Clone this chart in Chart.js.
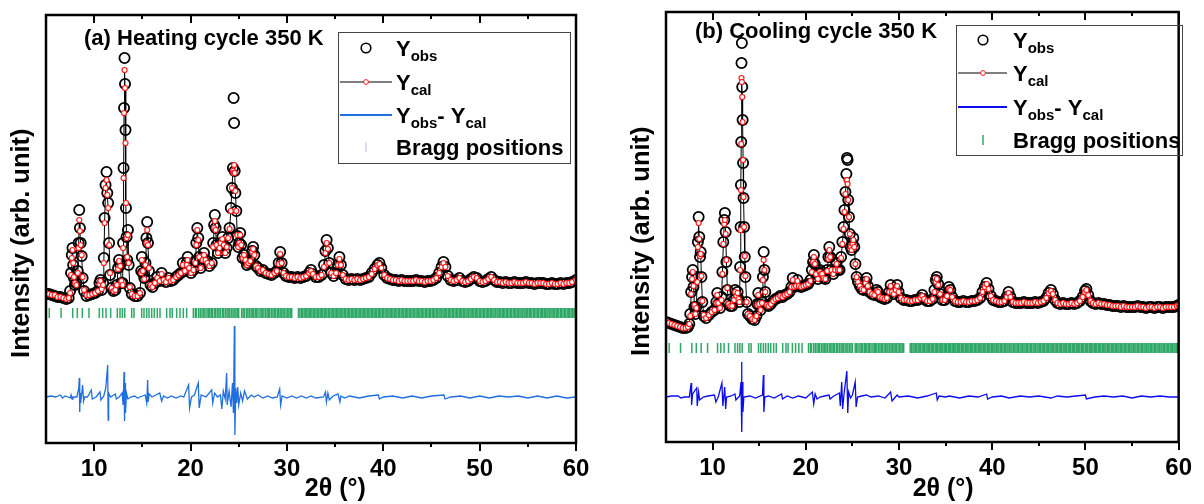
<!DOCTYPE html>
<html><head><meta charset="utf-8">
<script src="https://cdn.jsdelivr.net/npm/chart.js@4.4.1/dist/chart.umd.min.js"></script>
<style>
html,body{margin:0;padding:0;background:#fff;}
#wrap{position:relative;width:1204px;height:504px;overflow:hidden;}
.pane{position:absolute;top:0;width:602px;height:504px;}
canvas{display:block;}
</style></head><body>
<div id="wrap">
<div class="pane" style="left:0"><canvas id="cA" width="602" height="504"></canvas></div>
<div class="pane" style="left:602px"><canvas id="cB" width="602" height="504"></canvas></div>
</div>
<script>
// ---------- Panel (a): heating cycle 350 K ----------
const twoThetaA = [
 5.0,5.3,5.6,5.9,6.2,6.5,6.8,7.1,7.35,7.5,
 7.6,7.68,7.75,7.82,7.9,8.0,8.15,8.3,8.38,8.45,
 8.52,8.6,8.7,8.8,8.95,9.2,9.5,9.8,10.1,10.4,
 10.55,10.65,10.78,10.92,11.0,11.08,11.18,11.28,11.36,11.45,
 11.55,11.65,11.8,12.0,12.2,12.35,12.48,12.58,12.7,12.82,
 12.95,13.0,13.05,13.1,13.15,13.2,13.25,13.3,13.36,13.43,
 13.5,13.58,13.7,13.9,14.2,14.5,14.75,14.88,14.95,15.05,
 15.2,15.32,15.42,15.5,15.58,15.68,15.85,16.05,16.3,16.55,
 16.8,17.0,17.2,17.45,17.7,17.95,18.2,18.5,18.75,19.0,
 19.2,19.4,19.6,19.7,19.85,20.05,20.3,20.5,20.6,20.7,
 20.8,20.9,21.05,21.25,21.4,21.55,21.75,21.95,22.2,22.35,
 22.45,22.52,22.6,22.7,22.85,23.0,23.12,23.3,23.45,23.6,
 23.75,23.9,24.05,24.18,24.3,24.4,24.47,24.52,24.58,24.65,
 24.75,24.85,24.95,25.05,25.15,25.25,25.4,25.55,25.7,25.85,
 26.0,26.2,26.4,26.5,26.62,26.8,27.0,27.25,27.5,27.8,
 28.1,28.4,28.7,28.95,29.15,29.3,29.45,29.65,29.9,30.2,
 30.5,30.8,31.1,31.4,31.7,32.0,32.3,32.5,32.7,33.0,
 33.3,33.6,33.85,34.0,34.12,34.25,34.4,34.6,34.85,35.1,
 35.3,35.45,35.6,35.8,36.1,36.4,36.7,37.0,37.3,37.6,
 37.9,38.2,38.5,38.8,39.1,39.4,39.6,39.8,40.1,40.4,
 40.7,41.0,41.3,41.6,41.9,42.2,42.5,42.8,43.1,43.4,
 43.7,44.0,44.3,44.6,44.9,45.2,45.5,45.8,46.05,46.25,
 46.45,46.7,47.0,47.3,47.6,47.9,48.2,48.5,48.8,49.1,
 49.4,49.7,50.0,50.3,50.6,50.9,51.2,51.5,51.8,52.1,
 52.4,52.7,53.0,53.3,53.6,53.9,54.2,54.5,54.8,55.1,
 55.4,55.7,56.0,56.3,56.6,56.9,57.2,57.5,57.8,58.1,
 58.4,58.7,59.0,59.3,59.6,60.0
];
const yObsA = [
 149,149,148,147,146,146,145,144,145,152,
 170,188,195,178,165,158,160,172,200,233,
 215,200,187,165,152,147,148,149,150,152,
 160,163,153,160,185,225,258,271,250,240,
 200,168,155,152,153,158,175,183,178,160,
 160,200,275,335,385,359,313,235,206,183,
 213,178,155,149,147,147,150,172,186,170,
 165,180,205,221,200,172,158,156,160,166,
 162,170,163,161,165,162,163,166,168,170,
 180,172,180,186,175,170,173,182,200,215,
 205,186,175,185,190,183,182,177,180,200,
 218,228,215,198,190,195,200,206,198,190,
 195,205,215,235,255,275,345,320,272,250,
 232,207,196,200,210,198,185,188,183,178,
 180,182,192,196,188,177,175,172,173,170,
 169,168,170,172,180,191,180,170,167,166,
 166,165,166,165,166,167,170,173,169,166,
 166,168,178,192,203,195,180,170,167,170,
 178,186,178,168,164,163,164,163,164,163,
 164,165,166,170,174,178,180,175,168,165,
 164,163,163,162,163,162,162,162,162,163,
 162,162,161,162,162,163,165,170,176,181,
 176,167,163,162,163,165,162,161,162,164,
 166,165,162,161,162,164,166,163,161,161,
 160,161,160,160,161,160,160,160,161,160,
 160,159,160,160,160,159,159,160,159,159,
 160,159,160,160,161,163
];
const yCalA = [
 150,149,148,148,146,146,145,144,145,150,
 168,185,193,180,166,160,158,170,195,223,
 212,198,188,166,153,148,148,149,150,152,
 159,162,154,158,180,220,255,263,248,235,
 198,170,155,152,153,158,174,182,177,162,
 158,195,265,330,373,355,300,240,205,186,
 208,180,156,149,147,147,150,170,183,172,
 164,178,200,213,198,175,158,156,160,165,
 162,169,163,161,165,162,163,166,168,170,
 178,172,178,183,175,170,173,180,198,213,
 203,186,175,183,188,183,180,177,180,196,
 215,222,213,198,190,195,200,204,198,190,
 196,205,214,232,255,272,270,278,270,252,
 232,208,196,200,208,198,185,188,183,178,
 180,182,191,194,188,177,175,172,173,170,
 169,168,170,172,179,189,180,170,167,166,
 166,165,166,165,166,167,170,172,169,166,
 166,168,176,190,200,194,180,170,167,170,
 178,184,178,168,164,163,164,163,164,163,
 164,165,166,169,174,178,179,175,168,165,
 164,163,163,162,163,162,162,162,162,163,
 162,162,161,162,162,163,165,170,176,180,
 176,167,163,162,163,165,162,161,162,164,
 166,165,162,161,162,164,166,163,161,161,
 160,161,160,160,161,160,160,160,161,160,
 160,159,160,160,160,159,159,160,159,159,
 160,159,160,160,161,163
];
const diffThetaA = [
 5,5.5,6,6.5,6.7,7,7.5,7.6,7.7,7.8,
 8.2,8.4,8.45,8.5,8.55,8.6,8.8,8.9,9.0,9.3,
 9.7,9.8,10.2,10.6,10.7,11.0,11.2,11.4,11.45,11.5,
 11.7,12.2,12.3,12.6,12.9,13.0,13.1,13.15,13.2,13.25,
 13.35,13.5,13.8,14.2,14.5,15.0,15.3,15.45,15.55,15.6,
 15.7,16.0,16.4,16.8,17.0,17.2,17.6,18.0,18.5,19.0,
 19.3,19.8,19.9,20.1,20.4,20.8,20.9,21.1,21.6,22.2,
 22.3,22.5,22.8,23.1,23.25,23.4,23.6,23.75,23.8,24.0,
 24.2,24.35,24.45,24.55,24.6,24.7,24.8,24.9,25.0,25.2,
 25.4,25.6,25.9,26.3,26.6,27.0,27.5,28.0,28.5,29.0,
 29.25,29.35,29.5,30.0,30.5,31.0,31.5,32.0,32.5,33.0,
 33.8,34.0,34.1,34.25,34.4,34.8,35.3,35.5,35.6,36.0,
 36.5,37.5,38.5,39.5,39.6,40.0,41.0,42.0,43.0,44.0,
 45.0,46.3,46.4,47.0,48.0,49.0,50.0,51.0,52.0,53.0,
 54.0,55.0,56.0,57.0,58.0,59.0,60.0
];
const yDiffA = [
 46,47,46,48,45,47,45,48,44,46,
 46,55,65,31,50,40,58,42,46,46,
 53,44,46,51,43,47,55,78,23,50,
 46,49,44,46,50,38,71,22,60,30,
 50,44,46,47,45,47,48,40,63,41,
 49,46,48,50,42,47,45,47,45,47,
 46,58,35,46,48,60,35,48,46,53,
 40,50,46,48,34,52,44,70,38,52,
 36,60,30,117,8,55,40,56,38,50,
 42,52,44,48,46,48,45,47,45,46,
 54,38,47,45,47,45,47,45,47,45,
 46,51,41,50,43,47,49,41,47,45,
 47,45,47,48,44,46,47,45,47,45,
 47,48,44,46,47,45,47,45,47,46,
 47,45,47,45,47,45,46
];

// ---------- Panel (b): cooling cycle 350 K ----------
const twoThetaB = [
 5.0,5.3,5.6,5.9,6.2,6.5,6.8,7.1,7.35,7.5,
 7.6,7.7,7.8,7.87,7.95,8.05,8.15,8.25,8.35,8.42,
 8.5,8.57,8.65,8.72,8.8,8.9,9.05,9.3,9.6,9.9,
 10.2,10.4,10.5,10.6,10.8,10.95,11.05,11.15,11.25,11.32,
 11.4,11.48,11.58,11.7,11.9,12.1,12.3,12.42,12.55,12.68,
 12.78,12.88,12.95,13.0,13.04,13.07,13.1,13.14,13.18,13.22,
 13.27,13.32,13.38,13.45,13.52,13.65,13.8,14.0,14.25,14.5,
 14.7,14.8,14.9,15.0,15.15,15.3,15.4,15.48,15.56,15.65,
 15.8,16.0,16.25,16.5,16.75,17.0,17.25,17.5,17.75,18.0,
 18.25,18.45,18.6,18.75,18.95,19.1,19.25,19.5,19.75,20.0,
 20.25,20.5,20.65,20.78,20.87,20.97,21.1,21.3,21.5,21.62,
 21.75,21.9,22.1,22.3,22.42,22.52,22.62,22.75,22.95,23.15,
 23.3,23.45,23.62,23.78,23.92,24.05,24.15,24.25,24.35,24.42,
 24.48,24.55,24.63,24.72,24.82,24.92,25.02,25.1,25.2,25.32,
 25.45,25.6,25.8,26.0,26.2,26.4,26.52,26.65,26.85,27.1,
 27.35,27.6,27.75,27.95,28.2,28.45,28.7,28.95,29.1,29.25,
 29.45,29.65,29.8,29.95,30.2,30.5,30.8,31.1,31.4,31.7,
 32.0,32.3,32.5,32.7,33.0,33.3,33.6,33.8,33.95,34.05,
 34.2,34.4,34.65,34.9,35.15,35.35,35.5,35.7,36.0,36.3,
 36.6,36.9,37.2,37.5,37.8,38.1,38.4,38.7,38.95,39.2,
 39.4,39.6,39.85,40.1,40.4,40.7,41.0,41.3,41.55,41.75,
 41.95,42.2,42.5,42.8,43.1,43.4,43.7,44.0,44.3,44.6,
 44.9,45.2,45.5,45.8,46.05,46.3,46.5,46.75,47.0,47.3,
 47.6,47.9,48.2,48.5,48.8,49.1,49.4,49.7,49.95,50.1,
 50.3,50.55,50.8,51.1,51.4,51.7,52.0,52.3,52.6,52.9,
 53.2,53.5,53.8,54.1,54.4,54.7,55.0,55.3,55.6,55.9,
 56.2,56.5,56.8,57.1,57.4,57.7,58.0,58.3,58.6,58.9,
 59.2,59.5,59.8,60.0
];
const yObsB = [
 120,119,118,117,116,115,114,114,115,118,
 128,150,165,172,155,135,128,135,165,200,
 225,205,185,190,165,140,126,124,127,130,
 132,140,149,138,134,145,170,200,222,229,
 210,180,152,138,136,136,142,152,146,150,
 143,140,175,215,257,300,379,399,355,322,
 279,244,215,185,165,140,128,126,123,122,
 126,138,149,138,132,140,165,190,172,150,
 137,136,138,141,143,144,146,145,147,148,
 150,155,164,155,156,162,156,155,156,157,
 158,162,172,180,187,178,168,163,172,168,
 170,164,163,172,185,195,185,172,168,172,
 179,172,172,185,200,215,232,250,268,284,
 282,242,225,208,195,192,198,204,195,178,
 165,160,156,153,152,160,164,156,150,148,
 147,152,150,145,144,143,144,150,157,150,
 148,152,157,150,144,142,142,141,141,142,
 142,144,147,143,141,141,143,152,162,165,
 158,148,142,142,146,155,152,145,141,140,
 140,141,140,140,141,141,142,144,150,155,
 159,153,146,142,141,140,140,141,145,150,
 145,140,139,139,139,140,139,139,139,140,
 139,140,141,144,149,152,148,142,139,138,
 139,138,138,139,138,139,141,145,151,153,
 147,141,139,138,139,138,138,137,137,136,
 136,136,135,136,135,135,135,135,136,135,
 135,134,135,135,134,135,135,134,135,135,
 135,135,136,137
];
const yCalB = [
 121,119,118,117,116,115,114,114,115,118,
 126,148,163,170,156,137,128,134,160,195,
 219,203,186,188,166,141,127,124,127,130,
 132,139,147,139,134,142,168,198,218,222,
 208,182,154,138,136,136,142,150,146,149,
 143,140,172,212,252,298,364,360,345,320,
 282,245,215,186,166,140,128,126,123,122,
 126,137,147,138,132,139,162,182,172,150,
 137,136,138,141,143,144,146,145,147,148,
 150,155,162,155,156,161,156,155,156,157,
 158,161,170,180,185,178,168,163,170,168,
 168,164,163,171,183,192,185,172,168,172,
 178,172,172,184,198,213,230,248,262,262,
 258,242,225,208,195,192,198,202,195,178,
 165,160,156,153,152,159,163,156,150,148,
 147,151,150,145,144,143,144,150,156,150,
 148,152,156,150,144,142,142,141,141,142,
 142,144,146,143,141,141,143,150,160,163,
 157,148,142,142,146,153,152,145,141,140,
 140,141,140,140,141,141,142,144,150,155,
 158,153,146,142,141,140,140,141,145,149,
 145,140,139,139,139,140,139,139,139,140,
 139,140,141,144,149,151,148,142,139,138,
 139,138,138,139,138,139,141,145,150,152,
 147,141,139,138,139,138,138,137,137,136,
 136,136,135,136,135,135,135,135,136,135,
 135,134,135,135,134,135,135,134,135,135,
 135,135,136,137
];
const diffThetaB = [
 5,5.6,6.3,6.6,7.0,7.5,7.7,7.75,7.85,8.3,
 8.35,8.5,8.6,9.0,9.5,10.2,10.35,10.6,11.0,11.1,
 11.3,11.4,11.5,12.0,12.4,12.5,12.9,13.05,13.1,13.15,
 13.2,13.25,13.35,14.0,14.6,15.35,15.45,15.5,15.6,16.0,
 16.6,17.4,17.5,18.0,18.6,19.2,20.0,20.7,20.85,21.0,
 21.2,21.5,22.0,22.5,22.6,23.0,23.6,23.7,23.85,23.95,
 24.1,24.4,24.5,24.6,24.8,25.0,25.3,25.4,25.55,26.0,
 26.5,27.0,27.8,28.5,29.1,29.25,29.8,30.0,31.0,32.0,
 33.0,34.0,34.1,34.3,35.0,35.4,36.5,37.5,38.5,39.4,
 39.5,40.0,41.0,41.8,43.0,44.0,45.0,46.3,47.0,48.0,
 49.0,50.0,50.1,51.0,52.0,53.0,54.0,55.0,56.0,57.0,
 58.0,59.0,60.0
];
const yDiffB = [
 45,46,46,44,45,45,59,37,48,54,
 36,50,42,45,46,47,40,45,59,36,
 55,33,45,46,48,42,46,60,80,10,
 60,30,45,46,44,47,67,30,45,46,
 44,48,43,46,44,46,44,50,38,48,
 43,45,46,47,43,46,49,36,60,33,
 48,71,29,50,44,47,60,35,45,46,
 47,45,46,44,50,41,47,45,46,44,
 46,49,42,46,45,46,44,46,45,48,
 43,45,46,44,46,45,46,44,46,45,
 46,47,43,45,46,45,46,44,46,45,
 46,45,45
];

// ---------- Bragg reflection positions (same phase in both panels) ----------
const braggPositions = [
 5.34,6.56,7.77,8.25,8.77,9.46,10.53,10.88,11.23,11.71,12.4,12.68,12.92,13.17,13.89,14.13,
 14.93,15.17,15.45,15.69,15.97,16.24,16.55,16.83,17.52,17.87,18.1,18.56,18.9,19.25,19.6,
 20.29,20.5,20.62,20.85,21.02,21.2,21.38,21.5,21.7,21.85,22.0,22.15,22.3,22.5,22.62,22.8,
 22.95,23.1,23.3,23.42,23.6,23.78,23.9,24.05,24.22,24.4,24.52,24.7,24.85,25.0,25.3,25.45,
 25.6,25.8,25.95,26.1,26.28,26.4,26.55,26.72,26.85,27.0,27.2,27.35,27.5,27.62,27.8,27.95,
 28.1,28.22,28.4,28.55,28.7,28.82,29.0,29.15,29.3,29.45,29.6,29.72,29.9,30.05,30.2,30.35,30.5,
 31.2,31.35,31.5,31.62,31.78,31.9,32.05,32.2,32.32,32.48,32.6,32.75,32.9,33.02,33.18,33.3,
 33.45,33.6,33.72,33.88,34.0,34.15,34.3,34.42,34.58,34.7,34.85,35.0,35.12,35.28,35.4,35.55,
 35.7,35.82,35.98,36.1,36.25,36.4,36.52,36.68,36.8,36.95,37.1,37.22,37.38,37.5,37.65,37.8,
 37.92,38.08,38.2,38.35,38.5,38.62,38.78,38.9,39.05,39.2,39.32,39.48,39.6,39.75,39.9,40.02,
 40.18,40.3,40.45,40.6,40.72,40.88,41.0,41.15,41.3,41.42,41.58,41.7,41.85,42.0,42.12,42.28,
 42.4,42.55,42.7,42.82,42.98,43.1,43.25,43.4,43.52,43.68,43.8,43.95,44.1,44.22,44.38,44.5,
 44.65,44.8,44.92,45.08,45.2,45.35,45.5,45.62,45.78,45.9,46.05,46.2,46.32,46.48,46.6,46.75,
 46.9,47.02,47.18,47.3,47.45,47.6,47.72,47.88,48.0,48.15,48.3,48.42,48.58,48.7,48.85,49.0,
 49.12,49.28,49.4,49.55,49.7,49.82,49.98,50.1,50.25,50.4,50.52,50.68,50.8,50.95,51.1,51.22,
 51.38,51.5,51.65,51.8,51.92,52.08,52.2,52.35,52.5,52.62,52.78,52.9,53.05,53.2,53.32,53.48,
 53.6,53.75,53.9,54.02,54.18,54.3,54.45,54.6,54.72,54.88,55.0,55.15,55.3,55.42,55.58,55.7,
 55.85,56.0,56.12,56.28,56.4,56.55,56.7,56.82,56.98,57.1,57.25,57.4,57.52,57.68,57.8,57.95,
 58.1,58.22,58.38,58.5,58.65,58.8,58.92,59.08,59.2,59.35,59.5,59.62,59.78,59.9
];

const xTickLabels = [10,20,30,40,50,60];

// ---------- drawing ----------
const FONT = "'Liberation Sans', Arial, Helvetica, sans-serif";
Chart.defaults.font.family = FONT;
Chart.defaults.color = '#000';

function pts(xs, ys) { return xs.map((x, i) => ({x: x, y: ys[i]})); }

function drawRich(ctx, x, base, parts, size, subSize) {
  let cx = x;
  parts.forEach(p => {
    ctx.font = 'bold ' + (p.sub ? subSize : size) + 'px ' + FONT;
    const y = p.sub ? base + 5 : base;
    ctx.fillText(p.t, cx, y);
    cx += ctx.measureText(p.t).width;
  });
}

const decorPlugin = {
  id: 'decor',
  afterDraw(chart, args, o) {
    const ctx = chart.ctx, a = chart.chartArea, xs = chart.scales.x;
    ctx.save();
    ctx.strokeStyle = '#000'; ctx.lineWidth = 2.5;
    ctx.strokeRect(a.left, a.top, a.right - a.left, a.bottom - a.top);
    ctx.lineWidth = 2;
    for (let v = 10; v <= 60; v += 5) {
      const px = Math.round(xs.getPixelForValue(v));
      const len = (v % 10 === 0) ? 8 : 4;
      ctx.beginPath();
      ctx.moveTo(px, a.bottom); ctx.lineTo(px, a.bottom + len);
      ctx.moveTo(px, a.top); ctx.lineTo(px, a.top + len);
      ctx.stroke();
    }
    ctx.fillStyle = '#000';
    ctx.textBaseline = 'alphabetic';
    ctx.font = 'bold 22px ' + FONT;
    ctx.fillText(o.title, o.titleX, o.titleBase);
    const b = o.box;
    ctx.lineWidth = 1; ctx.strokeStyle = '#444';
    ctx.strokeRect(b[0] + 0.5, b[1] + 0.5, b[2] - b[0], b[3] - b[1]);
    const r = o.rows, sx = o.symX;
    ctx.strokeStyle = '#000'; ctx.lineWidth = 1.6;
    ctx.beginPath(); ctx.arc(sx, r[0], 4.8, 0, Math.PI * 2); ctx.stroke();
    ctx.lineWidth = 1; ctx.strokeStyle = '#000';
    ctx.beginPath(); ctx.moveTo(o.lineX[0], r[1]); ctx.lineTo(o.lineX[1], r[1]); ctx.stroke();
    ctx.fillStyle = '#fff'; ctx.strokeStyle = '#ff1a1a';
    ctx.beginPath(); ctx.arc(sx, r[1], 2.4, 0, Math.PI * 2); ctx.fill(); ctx.stroke();
    ctx.strokeStyle = o.diffColor; ctx.lineWidth = 2;
    ctx.beginPath(); ctx.moveTo(o.lineX[0], r[2]); ctx.lineTo(o.lineX[1], r[2]); ctx.stroke();
    ctx.strokeStyle = o.braggSym; ctx.lineWidth = 1.5;
    ctx.beginPath(); ctx.moveTo(sx, r[3] - 5); ctx.lineTo(sx, r[3] + 5); ctx.stroke();
    ctx.fillStyle = '#000';
    drawRich(ctx, o.textX, r[0] + 8, [{t:'Y'},{t:'obs',sub:true}], 22, 15);
    drawRich(ctx, o.textX, r[1] + 8, [{t:'Y'},{t:'cal',sub:true}], 22, 15);
    drawRich(ctx, o.textX, r[2] + 8, [{t:'Y'},{t:'obs',sub:true},{t:'- Y'},{t:'cal',sub:true}], 22, 15);
    drawRich(ctx, o.textX, r[3] + 8, [{t:'Bragg positions'}], 22, 15);
    ctx.restore();
  }
};

function makePanel(id, p) {
  const area = p.area;
  return new Chart(document.getElementById(id), {
    type: 'scatter',
    data: {
      datasets: [
        { label: 'Ycal', type: 'line', data: pts(p.x, p.cal), borderColor: '#000', borderWidth: 1,
          pointRadius: 2.5, pointBorderColor: '#ff1a1a', pointBackgroundColor: '#fff', pointBorderWidth: 1.2,
          tension: 0, order: 1 },
        { label: 'Yobs-Ycal', type: 'line', data: pts(p.dx, p.dy), borderColor: p.diffColor, borderWidth: 1.3,
          pointRadius: 0, tension: 0, order: 2 },
        { label: 'Yobs', type: 'scatter', data: pts(p.x, p.obs), pointRadius: 5.1, pointBorderColor: '#000',
          pointBackgroundColor: 'rgba(0,0,0,0)', pointBorderWidth: 1.8, showLine: false, order: 3 },
        { label: 'Bragg positions', type: 'scatter', data: braggPositions.map(x => ({x: x, y: p.braggY})),
          pointStyle: 'line', pointRotation: 90, pointRadius: 5, pointBorderColor: '#2fa866',
          pointBorderWidth: 1.5, showLine: false, order: 4 }
      ]
    },
    options: {
      responsive: false, animation: false, devicePixelRatio: 1, events: [],
      layout: { padding: { left: 0, top: area.top, right: 602 - area.right, bottom: 0 } },
      plugins: { legend: { display: false }, tooltip: { enabled: false }, decor: p.decor },
      scales: {
        x: {
          type: 'linear', min: 5, max: 60, position: 'bottom',
          grid: { display: false, drawTicks: false }, border: { display: false },
          ticks: { stepSize: 5, autoSkip: false, maxRotation: 0, padding: p.tickPad, color: '#000',
                   font: { size: 24, weight: 'bold' },
                   callback: v => xTickLabels.includes(v) ? String(v) : '' },
          title: { display: true, text: p.xTitle, color: '#000', font: { size: 25, weight: 'bold' },
                   padding: { top: 0, bottom: 0 } },
          afterFit: s => { s.height = 504 - area.bottom; }
        },
        y: {
          type: 'linear', min: 0, max: p.yMax,
          grid: { display: false, drawTicks: false }, border: { display: false },
          ticks: { display: false },
          title: { display: true, text: p.yTitle, color: '#000',
                   font: { size: 25.5, weight: 'bold' }, padding: { top: p.yTitlePad, bottom: 0 } },
          afterFit: s => { s.width = area.left; }
        }
      }
    },
    plugins: [decorPlugin]
  });
}

makePanel('cA', {
  x: twoThetaA, obs: yObsA, cal: yCalA, dx: diffThetaA, dy: yDiffA,
  braggY: 130, yMax: 428, area: { left: 46, right: 576, top: 15, bottom: 443 },
  diffColor: '#1f6fe0', tickPad: 12, yTitlePad: 7,
  xTitle: '       2θ (°)', yTitle: 'Intensity (arb. unit)    ',
  decor: { title: '(a) Heating cycle 350 K', titleX: 84, titleBase: 45,
           box: [338, 32, 570, 163], symX: 366, lineX: [340, 392], textX: 396,
           rows: [48, 82, 115, 147], diffColor: '#1f6fe0', braggSym: '#c8d4e8' }
});
makePanel('cB', {
  x: twoThetaB, obs: yObsB, cal: yCalB, dx: diffThetaB, dy: yDiffB,
  braggY: 94, yMax: 430, area: { left: 64, right: 586, top: 12, bottom: 442 },
  diffColor: '#0b0bf0', tickPad: 12, yTitlePad: 25,
  xTitle: '      2θ (°)', yTitle: 'Intensity (arb. unit)    ',
  decor: { title: '(b) Cooling cycle 350 K', titleX: 93, titleBase: 38,
           box: [354, 25, 580, 155], symX: 381, lineX: [356, 405], textX: 411,
           rows: [40, 73, 107, 140], diffColor: '#0b0bf0', braggSym: '#2fa866' }
});
</script>
</body></html>
